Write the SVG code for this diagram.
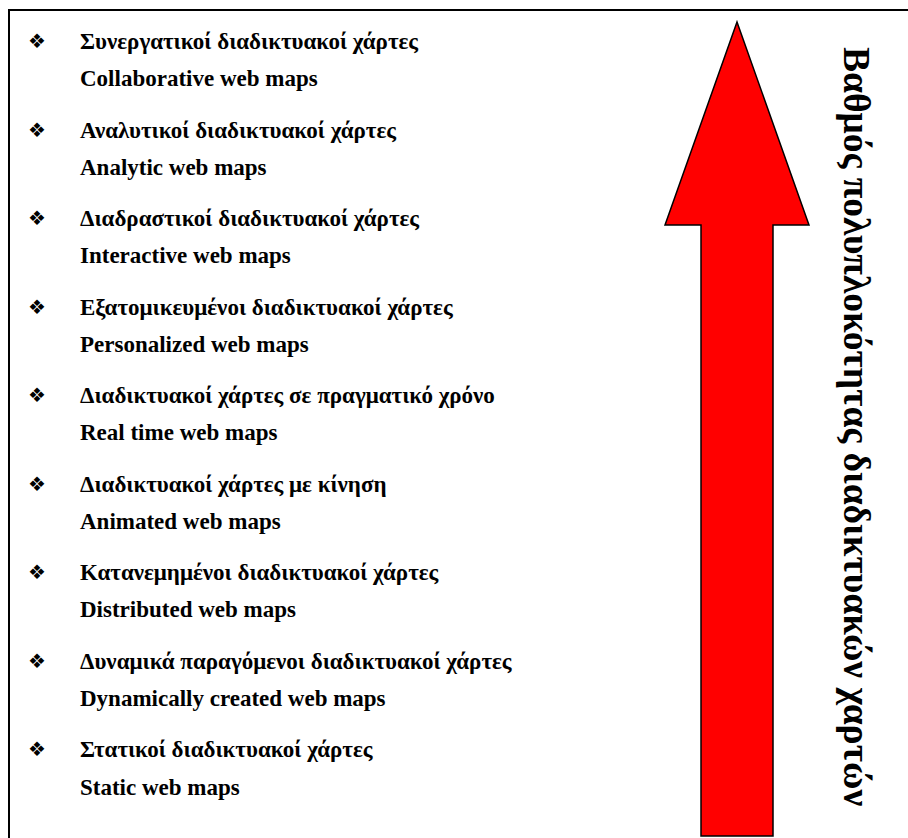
<svg xmlns="http://www.w3.org/2000/svg" width="908" height="838" viewBox="0 0 908 838">
  <style>
    .t { font-family: "Liberation Serif", "Times New Roman", serif; font-weight: bold; font-size: 23px; fill: #000; }
    .b { font-family: "DejaVu Sans", sans-serif; font-size: 20px; fill: #000; }
    .v { font-family: "Liberation Serif", "Times New Roman", serif; font-weight: bold; font-size: 37.5px; fill: #000; }
    .frame { stroke: #000; stroke-width: 2; fill: none; }
  </style>
  <rect width="908" height="838" fill="#fff"/>
  <!-- frame: top and left edges -->
  <path class="frame" d="M9,838 V10 H908"/>

  <!-- list of web map types -->
  <g id="item-collaborative">
    <text class="b" x="28" y="48">❖</text>
    <text class="t" x="80" y="49">Συνεργατικοί διαδικτυακοί χάρτες</text>
    <text class="t" x="80" y="86">Collaborative web maps</text>
  </g>
  <g id="item-analytic">
    <text class="b" x="28" y="136.5">❖</text>
    <text class="t" x="80" y="137.5">Αναλυτικοί διαδικτυακοί χάρτες</text>
    <text class="t" x="80" y="174.5">Analytic web maps</text>
  </g>
  <g id="item-interactive">
    <text class="b" x="28" y="225">❖</text>
    <text class="t" x="80" y="226">Διαδραστικοί διαδικτυακοί χάρτες</text>
    <text class="t" x="80" y="263">Interactive web maps</text>
  </g>
  <g id="item-personalized">
    <text class="b" x="28" y="313.5">❖</text>
    <text class="t" x="80" y="314.5">Εξατομικευμένοι διαδικτυακοί χάρτες</text>
    <text class="t" x="80" y="351.5">Personalized web maps</text>
  </g>
  <g id="item-realtime">
    <text class="b" x="28" y="402">❖</text>
    <text class="t" x="80" y="403">Διαδικτυακοί χάρτες σε πραγματικό χρόνο</text>
    <text class="t" x="80" y="440">Real time web maps</text>
  </g>
  <g id="item-animated">
    <text class="b" x="28" y="490.5">❖</text>
    <text class="t" x="80" y="491.5">Διαδικτυακοί χάρτες με κίνηση</text>
    <text class="t" x="80" y="528.5">Animated web maps</text>
  </g>
  <g id="item-distributed">
    <text class="b" x="28" y="579">❖</text>
    <text class="t" x="80" y="580">Κατανεμημένοι διαδικτυακοί χάρτες</text>
    <text class="t" x="80" y="617">Distributed web maps</text>
  </g>
  <g id="item-dynamic">
    <text class="b" x="28" y="667.5">❖</text>
    <text class="t" x="80" y="668.5">Δυναμικά παραγόμενοι διαδικτυακοί χάρτες</text>
    <text class="t" x="80" y="705.5">Dynamically created web maps</text>
  </g>
  <g id="item-static">
    <text class="b" x="28" y="756">❖</text>
    <text class="t" x="80" y="757">Στατικοί διαδικτυακοί χάρτες</text>
    <text class="t" x="80" y="795">Static web maps</text>
  </g>

  <!-- complexity arrow -->
  <g id="arrow">
    <polygon points="737,22 809,225 773,225 773,836 701,836 701,225 665,225" fill="#ff0000" stroke="#000" stroke-width="1.5" stroke-linejoin="miter"/>
  </g>

  <g id="axis-label">
    <text class="v" transform="translate(844,47) rotate(90)">Βαθμός πολυπλοκότητας διαδικτυακών χαρτών</text>
  </g>
</svg>
